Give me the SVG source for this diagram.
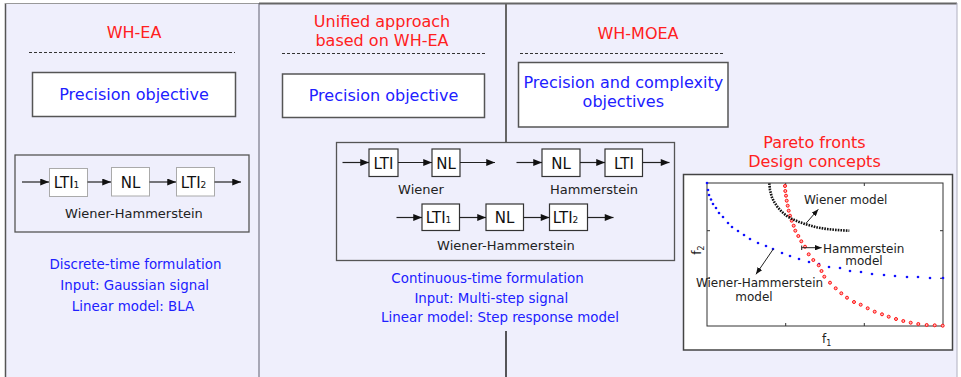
<svg xmlns="http://www.w3.org/2000/svg" width="961" height="377" viewBox="0 0 961 377">
<style>
text{font-family:"DejaVu Sans","Liberation Sans",sans-serif}
.h{fill:#ff2020;font-size:16px;text-anchor:middle}
.b{fill:#2020ff;text-anchor:middle}
.bt{fill:#2020ff;font-size:13.4px;text-anchor:middle}
.k{fill:#222;font-size:13px;text-anchor:middle}
.dash{stroke:#333;stroke-width:1;stroke-dasharray:3 2;fill:none}
.obj{fill:#fff;stroke:#555;stroke-width:1.5}
.grp{fill:none;stroke:#555;stroke-width:1.3}
.blk1{fill:#fff;stroke:#aaa;stroke-width:1}
.blk2{fill:#fff;stroke:#333;stroke-width:1.2}
.bl{fill:#111;font-size:15px;text-anchor:middle}
.ar{stroke:#222;stroke-width:1.2;fill:none;marker-end:url(#ah)}
.ar2{stroke:#222;stroke-width:1;fill:none;marker-end:url(#ah2)}
.pl{fill:#222;font-size:12px}
.bd{fill:#1010ff}
.rd{fill:#ffb0b0;stroke:#ff1010;stroke-width:1}
</style>
<defs>
<marker id="ah" viewBox="0 0 10 8" refX="10" refY="4" markerWidth="10" markerHeight="7" markerUnits="userSpaceOnUse" orient="auto"><path d="M0,0 L10,4 L0,8 z" fill="#111"/></marker>
<marker id="ah2" viewBox="0 0 10 8" refX="10" refY="4" markerWidth="7" markerHeight="5.5" markerUnits="userSpaceOnUse" orient="auto"><path d="M0,0 L10,4 L0,8 z" fill="#111"/></marker>
</defs>
<rect x="0" y="0" width="961" height="377" fill="#fff"/>
<rect x="5" y="3" width="952" height="374" fill="#efeffc"/>
<g id="frame">
<line x1="5.5" y1="3" x2="5.5" y2="377" stroke="#555" stroke-width="1.5"/>
<line x1="5" y1="3.5" x2="259" y2="3.5" stroke="#999" stroke-width="1"/>
<line x1="259" y1="3" x2="259" y2="377" stroke="#808090" stroke-width="1.3"/>
<line x1="259" y1="3.5" x2="957" y2="3.5" stroke="#666" stroke-width="2"/>
<line x1="506" y1="3" x2="506" y2="142" stroke="#666" stroke-width="2"/>
<line x1="957" y1="3" x2="957" y2="377" stroke="#b0b0c0" stroke-width="1"/>
</g>

<g id="wh-ea">
<text class="h" x="134" y="38">WH-EA</text>
<line class="dash" x1="29" y1="52.5" x2="235" y2="52.5"/>
</g>
<g id="wh-ea-objective">
<rect class="obj" x="32.5" y="72.5" width="203" height="44"/>
<text class="b" font-size="16" x="134" y="99.5">Precision objective</text>
</g>
<g id="wh-ea-model">
<rect class="grp" x="15" y="155" width="234" height="77"/>
<rect class="blk1" x="49.5" y="168.5" width="38" height="28"/>
<text class="bl" x="66.5" y="187.5">LTI<tspan font-size="9">1</tspan></text>
<rect class="blk1" x="111.5" y="167.5" width="38" height="28.5"/>
<text class="bl" x="130.5" y="187.5">NL</text>
<rect class="blk1" x="176.5" y="167.5" width="38" height="28.5"/>
<text class="bl" x="193.5" y="187.5">LTI<tspan font-size="9">2</tspan></text>
<text class="k" x="134" y="218">Wiener-Hammerstein</text>
</g>
<g id="wh-ea-notes">
<text class="bt" x="135.5" y="269">Discrete-time formulation</text>
<text class="bt" x="134.7" y="290">Input: Gaussian signal</text>
<text class="bt" x="133" y="311">Linear model: BLA</text>
</g>

<g id="unified">
<text class="h" x="382" y="27">Unified approach</text>
<text class="h" x="382" y="46">based on WH-EA</text>
<line class="dash" x1="282" y1="53.5" x2="486" y2="53.5"/>
</g>
<g id="unified-objective">
<rect class="obj" x="282.5" y="74" width="202" height="43.5"/>
<text class="b" font-size="16" x="383.5" y="101">Precision objective</text>
</g>
<g id="unified-models">
<rect class="grp" x="336.5" y="142.5" width="338" height="118"/>
<rect class="blk2" x="369" y="149" width="29" height="27.5"/>
<text class="bl" x="383.5" y="168.5">LTI</text>
<rect class="blk2" x="432" y="149" width="28" height="27.5"/>
<text class="bl" x="446" y="168.5">NL</text>
<text class="k" x="421" y="194">Wiener</text>
<rect class="blk2" x="542" y="149" width="38" height="27.5"/>
<text class="bl" x="561" y="168.5">NL</text>
<rect class="blk2" x="605" y="149" width="37.5" height="27.5"/>
<text class="bl" x="624" y="168.5">LTI</text>
<text class="k" x="594" y="194">Hammerstein</text>
<rect class="blk2" x="422" y="204" width="37.5" height="26.5"/>
<text class="bl" x="438.5" y="223">LTI<tspan font-size="9">1</tspan></text>
<rect class="blk2" x="486" y="204" width="37.5" height="26.5"/>
<text class="bl" x="504.5" y="223">NL</text>
<rect class="blk2" x="549.5" y="204" width="38" height="26.5"/>
<text class="bl" x="565.5" y="223">LTI<tspan font-size="9">2</tspan></text>
<text class="k" x="506" y="250">Wiener-Hammerstein</text>
</g>
<g id="unified-notes">
<text class="bt" x="487.5" y="283">Continuous-time formulation</text>
<text class="bt" x="491.3" y="302.5">Input: Multi-step signal</text>
<text class="bt" x="500" y="321.5">Linear model: Step response model</text>
</g>

<g id="wh-moea">
<text class="h" x="638" y="38.5">WH-MOEA</text>
<line class="dash" x1="520" y1="53.5" x2="725" y2="53.5"/>
</g>
<g id="wh-moea-objectives">
<rect class="obj" x="518.5" y="62.5" width="209.5" height="64.5"/>
<text class="b" font-size="16" x="623.3" y="87.5">Precision and complexity</text>
<text class="b" font-size="16" x="623.3" y="106.5">objectives</text>
</g>
<g id="pareto">
<text class="h" x="814.5" y="147.5">Pareto fronts</text>
<text class="h" x="814.5" y="167">Design concepts</text>
<rect x="683.5" y="174.5" width="269" height="175.5" fill="#fff" stroke="#444" stroke-width="1.5"/>
<rect x="707" y="183" width="236" height="143" fill="none" stroke="#333" stroke-width="1"/>
<path d="M785.7,326v-3 M864.3,326v-3 M785.7,183v3 M864.3,183v3 M707,230.7h3 M707,278.3h3 M943,230.7h-3 M943,278.3h-3" stroke="#333" stroke-width="1"/>
<g>
<circle class="bd" cx="707" cy="183" r="1.3"/><circle class="bd" cx="708" cy="190" r="1.3"/><circle class="bd" cx="709" cy="195" r="1.3"/><circle class="bd" cx="711" cy="199.5" r="1.3"/><circle class="bd" cx="713" cy="204" r="1.3"/><circle class="bd" cx="716" cy="208" r="1.3"/><circle class="bd" cx="719" cy="213" r="1.3"/><circle class="bd" cx="723" cy="217" r="1.3"/><circle class="bd" cx="728" cy="223" r="1.3"/><circle class="bd" cx="732" cy="227" r="1.3"/><circle class="bd" cx="738" cy="231" r="1.3"/><circle class="bd" cx="744" cy="235" r="1.3"/><circle class="bd" cx="750" cy="239" r="1.3"/><circle class="bd" cx="758" cy="243" r="1.3"/><circle class="bd" cx="766" cy="246" r="1.3"/><circle class="bd" cx="773" cy="249" r="1.3"/><circle class="bd" cx="782" cy="253" r="1.3"/><circle class="bd" cx="790" cy="256" r="1.3"/><circle class="bd" cx="799" cy="259" r="1.3"/><circle class="bd" cx="809" cy="262" r="1.3"/><circle class="bd" cx="819" cy="264" r="1.3"/><circle class="bd" cx="829" cy="267" r="1.3"/><circle class="bd" cx="840" cy="268" r="1.3"/><circle class="bd" cx="850" cy="271" r="1.3"/><circle class="bd" cx="861" cy="272" r="1.3"/><circle class="bd" cx="872" cy="274" r="1.3"/><circle class="bd" cx="884" cy="275" r="1.3"/><circle class="bd" cx="895" cy="276" r="1.3"/><circle class="bd" cx="907" cy="277" r="1.3"/><circle class="bd" cx="918" cy="277" r="1.3"/><circle class="bd" cx="930" cy="278" r="1.3"/><circle class="bd" cx="943" cy="278" r="1.3"/>
</g>
<g>
<circle class="rd" cx="785" cy="186" r="1.5"/><circle class="rd" cx="785.3" cy="191" r="1.5"/><circle class="rd" cx="786" cy="195.7" r="1.5"/><circle class="rd" cx="786.7" cy="200.7" r="1.5"/><circle class="rd" cx="787.7" cy="205.7" r="1.5"/><circle class="rd" cx="788.7" cy="210.7" r="1.5"/><circle class="rd" cx="790" cy="215.7" r="1.5"/><circle class="rd" cx="791.7" cy="220.7" r="1.5"/><circle class="rd" cx="793.7" cy="225.7" r="1.5"/><circle class="rd" cx="795.3" cy="230.7" r="1.5"/><circle class="rd" cx="798.3" cy="236" r="1.5"/><circle class="rd" cx="801.3" cy="241.3" r="1.5"/><circle class="rd" cx="805" cy="246.7" r="1.5"/><circle class="rd" cx="808.7" cy="254.3" r="1.5"/><circle class="rd" cx="813.3" cy="260" r="1.5"/><circle class="rd" cx="818.7" cy="265.3" r="1.5"/><circle class="rd" cx="821.5" cy="271" r="1.5"/><circle class="rd" cx="824.3" cy="276.7" r="1.5"/><circle class="rd" cx="830" cy="282.7" r="1.5"/><circle class="rd" cx="835.7" cy="288.3" r="1.5"/><circle class="rd" cx="841.3" cy="293.3" r="1.5"/><circle class="rd" cx="847" cy="297.7" r="1.5"/><circle class="rd" cx="854" cy="302" r="1.5"/><circle class="rd" cx="860.7" cy="304.7" r="1.5"/><circle class="rd" cx="867.7" cy="308.3" r="1.5"/><circle class="rd" cx="874.7" cy="311.7" r="1.5"/><circle class="rd" cx="882" cy="314.3" r="1.5"/><circle class="rd" cx="888.7" cy="316.7" r="1.5"/><circle class="rd" cx="896" cy="319" r="1.5"/><circle class="rd" cx="903.3" cy="321" r="1.5"/><circle class="rd" cx="910.7" cy="322.7" r="1.5"/><circle class="rd" cx="918.3" cy="324" r="1.5"/><circle class="rd" cx="926.7" cy="325" r="1.5"/><circle class="rd" cx="934.7" cy="325.3" r="1.5"/><circle class="rd" cx="942.7" cy="325.7" r="1.5"/>
</g>
<polyline points="769.3,183.3 770,190 771.7,196.7 774,201.7 777.3,206.7 781.7,211.7 786.7,216 792.7,219.3 800,222.3 808.3,225 816.7,227.3 826.7,229 836.7,230 849.3,230.7" fill="none" stroke="#111" stroke-width="2.6" stroke-dasharray="1.6 1.1"/>
<text class="pl" x="804" y="204">Wiener model</text>
<text class="pl" x="823" y="252.5">Hammerstein</text>
<text class="pl" x="864" y="265" text-anchor="middle">model</text>
<text class="pl" x="759.5" y="287" text-anchor="middle">Wiener-Hammerstein</text>
<text class="pl" x="754" y="300.5" text-anchor="middle">model</text>
<text class="pl" x="701" y="250" text-anchor="middle" transform="rotate(-90 701 250)">f<tspan font-size="8" dy="3">2</tspan></text>
<text class="pl" x="822" y="343">f<tspan font-size="8" dy="3">1</tspan></text>
</g>

<g id="connectors">
<line x1="506" y1="331" x2="506" y2="377" stroke="#222" stroke-width="1.5"/>
<path class="ar" d="M22,182 H49"/>
<path class="ar" d="M87.5,182 H111"/>
<path class="ar" d="M149.5,182 H176"/>
<path class="ar" d="M214.5,182 H241"/>
<path class="ar" d="M342.5,162.5 H369"/>
<path class="ar" d="M398,162.5 H432"/>
<path class="ar" d="M460,162.5 H495"/>
<path class="ar" d="M516.5,162.5 H542"/>
<path class="ar" d="M580,162.5 H605"/>
<path class="ar" d="M642.5,162.5 H669.5"/>
<path class="ar" d="M396.5,217.5 H422"/>
<path class="ar" d="M459.5,217.5 H486"/>
<path class="ar" d="M523.5,217.5 H549.5"/>
<path class="ar" d="M587.5,217.5 H613.5"/>
<path class="ar2" d="M806,223.3 L818.3,209.3"/>
<path class="ar2" d="M801.7,247.7 H821.7"/>
<path d="M801.7,245.5 v4.5" stroke="#222" stroke-width="1"/>
<path class="ar2" d="M773.3,249 L756,274.3"/>
</g>
</svg>
